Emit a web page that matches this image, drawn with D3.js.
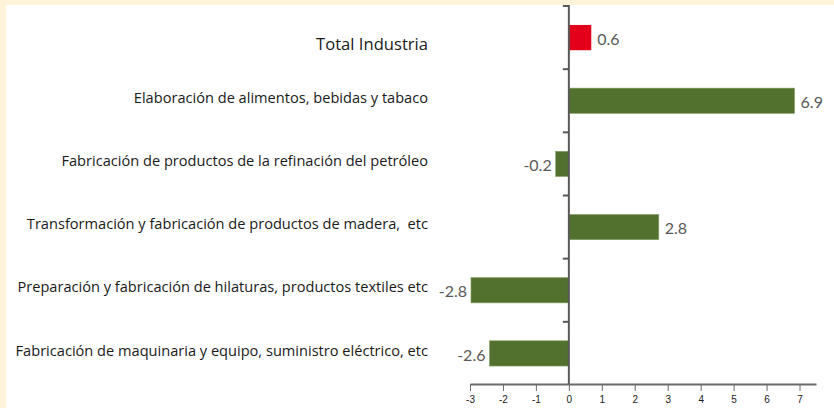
<!DOCTYPE html>
<html>
<head>
<meta charset="utf-8">
<script src="https://cdn.jsdelivr.net/npm/d3@7"></script>
<style>
  body { margin: 0; background: #fff3d9; }
  svg { display: block; }
  text.cat { white-space: pre; }
</style>
</head>
<body>
<div id="chart"></div>
<script>
// rows, top to bottom
var categories = [
    "Total Industria",
    "Elaboración de alimentos, bebidas y tabaco",
    "Fabricación de productos de la refinación del petróleo",
    "Transformación y fabricación de productos de madera,  etc",
    "Preparación y fabricación de hilaturas, productos textiles etc",
    "Fabricación de maquinaria y equipo, suministro eléctrico, etc"
];
// bar lengths as drawn in the picture
var values = [0.68, 6.85, -0.4, 2.73, -2.97, -2.41];
// printed data labels
var valueLabels = ["0.6", "6.9", "-0.2", "2.8", "-2.8", "-2.6"];
var xTicks = [-3, -2, -1, 0, 1, 2, 3, 4, 5, 6, 7];

var svgWidth = 834;
var svgHeight = 408;

var svg = d3.select("#chart")
    .append("svg")
    .attr("width", svgWidth)
    .attr("height", svgHeight);

// white panel on the cream background
svg.append("rect")
    .attr("x", 6)
    .attr("y", 5)
    .attr("width", svgWidth - 6)
    .attr("height", svgHeight - 5)
    .attr("fill", "#ffffff");

var xScale = d3.scaleLinear()
    .domain([-3, 7.5])
    .range([470, 816]);

var yScale = d3.scaleBand()
    .domain(categories)
    .range([6, 385])
    .paddingInner(0.6)
    .paddingOuter(0.3);

var band = (385 - 6) / categories.length;

// bars
svg.selectAll("rect.bar")
    .data(values)
    .enter()
    .append("rect")
    .attr("class", "bar")
    .attr("x", d => xScale(Math.min(0, d)))
    .attr("y", (d, i) => yScale(categories[i]))
    .attr("width", d => Math.abs(xScale(d) - xScale(0)))
    .attr("height", yScale.bandwidth())
    .attr("fill", (d, i) => i === 0 ? "#e2001a" : "#52702e")
    .attr("stroke", (d, i) => i === 0 ? "none" : "#8aa36b")
    .attr("stroke-width", 0.6);

// value labels
svg.selectAll("text.val")
    .data(values)
    .enter()
    .append("text")
    .attr("class", "val")
    .attr("x", d => d >= 0 ? xScale(d) + 6 : xScale(d) - 4)
    .attr("y", (d, i) => yScale(categories[i]) + yScale.bandwidth() / 2 + 1.5)
    .attr("dy", "0.35em")
    .attr("text-anchor", d => d >= 0 ? "start" : "end")
    .attr("font-family", "Lato, 'Open Sans', sans-serif")
    .attr("font-size", "16px")
    .attr("fill", "#595959")
    .text((d, i) => valueLabels[i]);

// category labels
svg.selectAll("text.cat")
    .data(categories)
    .enter()
    .append("text")
    .attr("class", "cat")
    .attr("x", 428)
    .attr("y", (d, i) => yScale(d) + yScale.bandwidth() / 2 + (i === 0 ? 7 : -3))
    .attr("dy", "0.35em")
    .attr("text-anchor", "end")
    .attr("font-family", "'Open Sans', sans-serif")
    .attr("font-size", (d, i) => i === 0 ? "16.6px" : "14.6px")
    .attr("fill", "#1a1a1a")
    .text(d => d);

// vertical category axis with ticks at row boundaries
var boundaries = d3.range(categories.length).map(i => 6 + i * band);
var yAxisG = svg.append("g");
yAxisG.append("line")
    .attr("x1", xScale(0))
    .attr("x2", xScale(0))
    .attr("y1", 5)
    .attr("y2", 385)
    .attr("stroke", "#595959")
    .attr("stroke-width", 2);
yAxisG.selectAll("line.tk")
    .data(boundaries)
    .enter()
    .append("line")
    .attr("class", "tk")
    .attr("x1", xScale(0) - 6)
    .attr("x2", xScale(0))
    .attr("y1", d => d)
    .attr("y2", d => d)
    .attr("stroke", "#595959")
    .attr("stroke-width", 2);

// x axis
var xAxis = d3.axisBottom(xScale)
    .tickValues(xTicks)
    .tickFormat(d => String(d))
    .tickSize(7)
    .tickSizeOuter(0)
    .tickPadding(5);

var xAxisG = svg.append("g")
    .attr("transform", "translate(0, 384)")
    .call(xAxis);

xAxisG.select(".domain")
    .attr("stroke", "#6b6b6b")
    .attr("stroke-width", 2);
xAxisG.selectAll(".tick line")
    .attr("stroke", "#6b6b6b")
    .attr("stroke-width", 1);
xAxisG.selectAll(".tick text")
    .attr("font-family", "Arial, 'Liberation Sans', sans-serif")
    .attr("font-size", "10px")
    .attr("fill", "#1a1a1a");
</script>
</body>
</html>
